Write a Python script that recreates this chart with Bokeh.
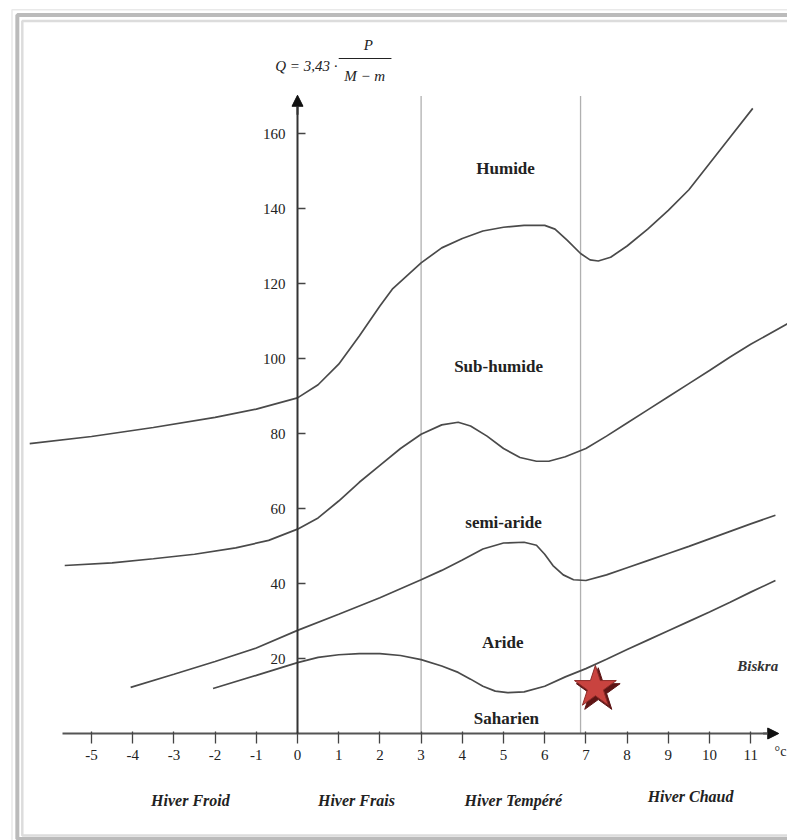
from bokeh.plotting import figure
from bokeh.models import Range1d, FixedTicker, Arrow, NormalHead, BoxAnnotation, ColumnDataSource
from bokeh.core.properties import value
from bokeh.transform import dodge
from bokeh.embed import file_html
from bokeh.resources import INLINE

# ---------------- data ----------------
# limit Humide / Sub-humide
humide_m = [-6.5, -5.0, -3.5, -2.0, -1.0, 0.0, 0.5, 1.0, 1.5, 2.0, 2.3, 2.7, 3.0, 3.5, 4.0, 4.5,
            5.0, 5.5, 6.0, 6.25, 6.55, 6.87, 7.1, 7.3, 7.6, 8.0, 8.5, 9.0, 9.5, 10.0, 10.5, 11.05]
humide_q = [77.3, 79.2, 81.6, 84.3, 86.5, 89.5, 93.0, 98.5, 106.0, 114.0, 118.5, 122.5, 125.5, 129.5, 132.0, 134.0,
            135.0, 135.5, 135.5, 134.5, 131.5, 128.0, 126.3, 126.0, 127.0, 130.0, 134.5, 139.5, 145.0, 152.0, 159.0, 166.7]
# limit Sub-humide / semi-aride
subhum_m = [-5.65, -4.5, -3.5, -2.5, -1.5, -0.7, 0.0, 0.5, 1.0, 1.5, 2.0, 2.5, 3.0, 3.5, 3.9, 4.2,
            4.6, 5.0, 5.4, 5.8, 6.1, 6.5, 7.0, 7.5, 8.0, 8.5, 9.0, 9.5, 10.0, 10.5, 11.0, 11.9]
subhum_q = [44.8, 45.5, 46.6, 47.8, 49.5, 51.5, 54.5, 57.5, 62.0, 67.0, 71.5, 76.0, 79.8, 82.3, 83.0, 82.0,
            79.3, 76.0, 73.6, 72.6, 72.6, 73.8, 76.0, 79.3, 82.8, 86.3, 89.8, 93.3, 96.8, 100.4, 103.8, 109.3]
# limit semi-aride / Aride
semi_m = [-4.05, -3.0, -2.0, -1.0, 0.0, 1.0, 2.0, 3.0, 3.5, 4.0, 4.5, 5.0, 5.5, 5.8, 6.0, 6.2, 6.45,
          6.7, 7.0, 7.5, 8.0, 8.5, 9.0, 9.5, 10.0, 10.5, 11.0, 11.6]
semi_q = [12.3, 15.8, 19.2, 22.8, 27.5, 31.8, 36.2, 41.0, 43.5, 46.3, 49.2, 50.8, 51.0, 50.2, 47.8, 44.8, 42.3,
          41.0, 40.8, 42.3, 44.2, 46.1, 48.0, 49.9, 51.9, 53.9, 55.9, 58.2]
# limit Aride / Saharien
aride_m = [-2.05, -1.0, 0.0, 0.5, 1.0, 1.5, 2.0, 2.5, 3.0, 3.5, 3.9, 4.2, 4.5, 4.8, 5.1, 5.5, 6.0,
           6.5, 7.0, 7.5, 8.0, 8.5, 9.0, 9.5, 10.0, 10.5, 11.0, 11.6]
aride_q = [12.0, 15.5, 18.9, 20.3, 21.0, 21.3, 21.3, 20.8, 19.7, 18.0, 16.3, 14.5, 12.6, 11.3, 10.9, 11.1, 12.6,
           15.1, 17.3, 19.8, 22.4, 24.9, 27.4, 29.9, 32.4, 35.0, 37.7, 40.8]

x_ticks = [-5, -4, -3, -2, -1, 0, 1, 2, 3, 4, 5, 6, 7, 8, 9, 10, 11]
y_ticks = [20, 40, 60, 80, 100, 120, 140, 160]

zone_limits = [3.0, 6.87]
zone_top = [170, 170]
zone_base = [0, 0]

zone_names = ["Humide", "Sub-humide", "semi-aride", "Aride", "Saharien"]
zone_label_m = [5.05, 4.88, 5.0, 4.98, 5.07]
zone_label_q = [150.7, 97.9, 56.3, 24.3, 4.0]

winter_names = ["Hiver Froid", "Hiver Frais", "Hiver Tempéré", "Hiver Chaud"]
winter_m = [-2.6, 1.43, 5.24, 9.54]
winter_q = [-17.9, -17.9, -17.9, -16.8]

station_m = [7.23]
station_q = [12.3]
station_name = ["Biskra"]
station_label_m = [11.17]
station_label_q = [17.9]

# ---------------- figure ----------------
W, H = 787, 840
p = figure(width=W, height=H, output_backend="svg", toolbar_location=None,
           x_range=Range1d(-7.209, 11.893), y_range=Range1d(-28.53, 195.47),
           min_border=0, min_border_left=0, min_border_right=0, min_border_top=0, min_border_bottom=0)
p.background_fill_color = "white"
p.border_fill_color = "white"
p.outline_line_color = None
p.grid.visible = False

SERIF = "Liberation Serif"
INK = "#222222"
CURVE = "#4a4a4a"

# frame (double border)
p.add_layout(BoxAnnotation(left=-6.93, right=13.0, top=193.0, bottom=-40.0,
                           fill_color=None, fill_alpha=0, line_color="#b5b5b5", line_width=1.5))
p.add_layout(BoxAnnotation(left=-6.80, right=13.0, top=191.6, bottom=-28.1,
                           fill_color=None, fill_alpha=0, line_color="#1e1e1e", line_width=4))
p.add_layout(BoxAnnotation(left=-6.68, right=13.0, top=190.0, bottom=-27.2,
                           fill_color=None, fill_alpha=0, line_color="#8a8a8a", line_width=2.5))

# zone limits (vertical)
p.segment(x0=zone_limits, y0=zone_base, x1=zone_limits, y1=zone_top, line_color="#b0b0b0", line_width=1.3)

# curves
for xs, ys in [(humide_m, humide_q), (subhum_m, subhum_q), (semi_m, semi_q), (aride_m, aride_q)]:
    p.line(xs, ys, line_color=CURVE, line_width=1.7)

# axes through the origin
xa = p.xaxis[0]
xa.fixed_location = 0
xa.bounds = (-5.7, 11.5)
xa.ticker = FixedTicker(ticks=x_ticks)
xa.major_label_overrides = {t: str(t) for t in x_ticks if t < 0}
xa.minor_tick_line_color = None
xa.major_tick_out = 10
xa.major_tick_in = 2
xa.axis_line_color = "#555555"
xa.axis_line_width = 2
xa.major_tick_line_color = "#444444"
xa.major_tick_line_width = 1.3
xa.major_label_standoff = 6
xa.major_label_text_font = SERIF
xa.major_label_text_font_size = "15px"
xa.major_label_text_color = INK

ya = p.yaxis[0]
ya.fixed_location = 0
ya.bounds = (0, 168)
ya.ticker = FixedTicker(ticks=y_ticks)
ya.minor_tick_line_color = None
ya.major_tick_out = 0
ya.major_tick_in = 8
ya.axis_line_color = "#333333"
ya.axis_line_width = 2
ya.major_tick_line_color = "#444444"
ya.major_tick_line_width = 1.3
ya.major_label_standoff = 12
ya.major_label_text_font = SERIF
ya.major_label_text_font_size = "15px"
ya.major_label_text_color = INK

p.add_layout(Arrow(end=NormalHead(size=11, fill_color="#111111", line_color="#111111"),
                   x_start=11.3, y_start=0, x_end=11.68, y_end=0, line_color="#555555", line_width=2))
p.add_layout(Arrow(end=NormalHead(size=11, fill_color="#111111", line_color="#111111"),
                   x_start=0, y_start=165, x_end=0, y_end=170.2, line_color="#333333", line_width=2))

# unit of the x axis
p.text(x=[11.58], y=[-4.9], text=["°c"], text_font=value(SERIF), text_font_size="14px",
       text_color=INK, text_align="left", text_baseline="middle")

# formula
p.text(x=[0.97], y=[178.1], text=["Q = 3,43 ·"], text_font=value(SERIF), text_font_style="italic",
       text_font_size="15px", text_color=INK, text_align="right", text_baseline="middle")
p.segment(x0=[1.0], y0=[180.0], x1=[2.28], y1=[180.0], line_color=INK, line_width=1)
p.text(x=[1.72], y=[183.6], text=["P"], text_font=value(SERIF), text_font_style="italic",
       text_font_size="15px", text_color=INK, text_align="center", text_baseline="middle")
p.text(x=[1.63], y=[175.4], text=["M − m"], text_font=value(SERIF), text_font_style="italic",
       text_font_size="15px", text_color=INK, text_align="center", text_baseline="middle")

# zone names
p.text(x=zone_label_m, y=zone_label_q, text=zone_names, text_font=value(SERIF), text_font_style="bold",
       text_font_size="17px", text_color=INK, text_align="center", text_baseline="middle")

# winter types
p.text(x=winter_m, y=winter_q, text=winter_names, text_font=value(SERIF), text_font_style="bold italic",
       text_font_size="16px", text_color=INK, text_align="center", text_baseline="middle")

# station
src = ColumnDataSource(dict(m=station_m, q=station_q))
p.scatter(x=dodge("m", 0.07, range=p.x_range), y=dodge("q", -0.9, range=p.y_range), source=src,
          marker="star", size=46, fill_color="#5e1515", line_color="#5e1515")
p.scatter(x="m", y="q", source=src, marker="star", size=44,
          fill_color="#c9433f", line_color="#8c2a27", line_width=1)
p.text(x=station_label_m, y=station_label_q, text=station_name, text_font=value(SERIF),
       text_font_style="bold italic", text_font_size="15px", text_color="#333333",
       text_align="center", text_baseline="middle")

open("out.html", "w").write(file_html(p, INLINE))
